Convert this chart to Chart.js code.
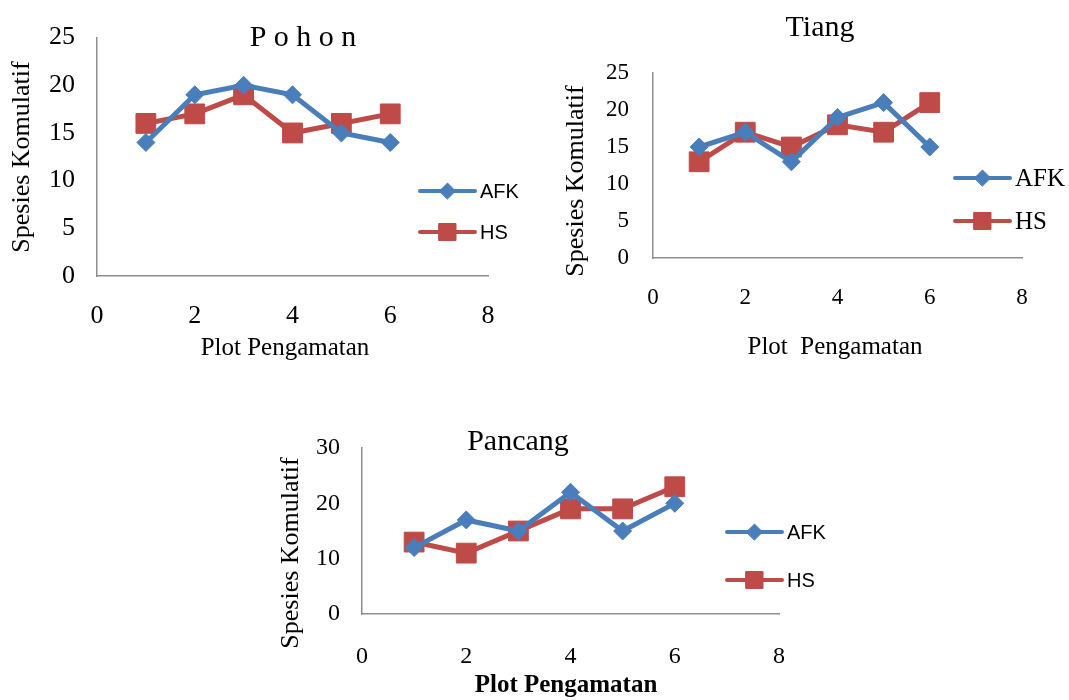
<!DOCTYPE html>
<html>
<head>
<meta charset="utf-8">
<script src="https://cdn.jsdelivr.net/npm/chart.js@4.4.0/dist/chart.umd.min.js"></script>
<style>
  body { margin: 0; background: #fff; }
  #wrap { position: relative; width: 1069px; height: 700px; overflow: hidden; }
  canvas { position: absolute; }
</style>
</head>
<body>
<div id="wrap">
  <canvas id="pohon" width="540" height="370" style="left:0;top:0"></canvas>
  <canvas id="tiang" width="529" height="370" style="left:540px;top:0"></canvas>
  <canvas id="pancang" width="620" height="320" style="left:240px;top:380px"></canvas>
</div>
<script>
// data
var plotNo = [1, 2, 3, 4, 5, 6];
var seriesNames = ["AFK", "HS"];

var pohonAFK = [14, 19, 20, 19, 15, 14];
var pohonHS = [16, 17, 19, 15, 16, 17];

var tiangAFK = [15, 17, 13, 19, 21, 15];
var tiangHS = [13, 17, 15, 18, 17, 21];

var pancangAFK = [12, 17, 15, 22, 15, 20];
var pancangHS = [13, 11, 15, 19, 19, 23];

var blue = "#4A7EBB";
var red = "#BE4B48";
var serif = "'Liberation Serif', 'Times New Roman', serif";
var sans = "'Liberation Sans', Arial, sans-serif";

function toPoints(ys) {
  return plotNo.map(function (x, i) { return { x: x, y: ys[i] }; });
}

// titles, axis titles and legend drawn on top of the chart
function extras(spec) {
  return {
    id: "extras",
    afterDraw: function (chart) {
      var ctx = chart.ctx;
      ctx.save();
      ctx.fillStyle = "#000";
      ctx.textBaseline = "middle";
      spec.texts.forEach(function (t) {
        ctx.save();
        ctx.font = t.font;
        ctx.textAlign = "center";
        ctx.translate(t.x, t.y);
        if (t.rotate) ctx.rotate(-Math.PI / 2);
        ctx.fillText(t.text, 0, 0);
        ctx.restore();
      });
      var lg = spec.legend;
      chart.data.datasets.forEach(function (ds, i) {
        var y = lg.y[i];
        ctx.strokeStyle = ds.borderColor;
        ctx.lineWidth = 4;
        ctx.lineCap = "round";
        ctx.beginPath();
        ctx.moveTo(lg.x1, y);
        ctx.lineTo(lg.x2, y);
        ctx.stroke();
        ctx.fillStyle = ds.pointBackgroundColor;
        ctx.lineWidth = 1;
        Chart.helpers.drawPoint(ctx, { pointStyle: ds.pointStyle, radius: lg.radius[i], borderWidth: 1, rotation: 0 }, (lg.x1 + lg.x2) / 2, y);
        ctx.fillStyle = "#000";
        ctx.font = lg.font;
        ctx.textAlign = "left";
        ctx.fillText(ds.label, lg.x2 + 5, y + 1);
      });
      ctx.restore();
    }
  };
}

function makeChart(id, afk, hs, spec) {
  var canvas = document.getElementById(id);
  var a = spec.area;
  var cfg = {
    type: "scatter",
    data: {
      datasets: [
        {
          label: seriesNames[0], data: toPoints(afk), showLine: true,
          borderColor: blue, borderWidth: 5, pointStyle: "rectRot", pointRadius: 9,
          pointBackgroundColor: blue, pointBorderColor: blue, pointBorderWidth: 1
        },
        {
          label: seriesNames[1], data: toPoints(hs), showLine: true,
          borderColor: red, borderWidth: 5, pointStyle: "rect", pointRadius: 14,
          pointBackgroundColor: red, pointBorderColor: red, pointBorderWidth: 1
        }
      ]
    },
    options: {
      responsive: false,
      animation: false,
      clip: false,
      layout: { padding: { left: 0, top: a.top, right: canvas.width - a.right, bottom: 0 } },
      plugins: { legend: { display: false }, tooltip: { enabled: false } },
      scales: {
        x: {
          type: "linear", min: 0, max: 8,
          grid: { display: false, drawTicks: false },
          border: { color: "#8e8e8e", width: 1.5 },
          ticks: { stepSize: 2, padding: spec.xPad, color: "#000", font: { family: serif, size: spec.tickSize } },
          afterFit: function (s) { s.height = canvas.height - a.bottom; }
        },
        y: {
          min: 0, max: spec.yMax,
          grid: { display: false, drawTicks: false },
          border: { color: "#8e8e8e", width: 1.5 },
          ticks: { stepSize: spec.yStep, padding: spec.yPad, color: "#000", font: { family: serif, size: spec.tickSize } },
          afterFit: function (s) { s.width = a.left; }
        }
      }
    },
    plugins: [extras(spec)]
  };
  return new Chart(canvas.getContext("2d"), cfg);
}

makeChart("pohon", pohonAFK, pohonHS, {
  area: { left: 97, top: 37, right: 488, bottom: 276 },
  yMax: 25, yStep: 5, tickSize: 26, xPad: 25, yPad: 22,
  texts: [
    { text: "P o h o n", x: 303, y: 38, font: "30px " + serif },
    { text: "Spesies Komulatif", x: 22, y: 157, font: "26px " + serif, rotate: true },
    { text: "Plot Pengamatan", x: 285, y: 348, font: "25px " + serif }
  ],
  legend: { x1: 420, x2: 475, y: [191, 232], radius: [8, 12], font: "20px " + sans }
});

makeChart("tiang", tiangAFK, tiangHS, {
  area: { left: 113, top: 73, right: 482, bottom: 258 },
  yMax: 25, yStep: 5, tickSize: 23, xPad: 26, yPad: 24,
  texts: [
    { text: "Tiang", x: 280, y: 28, font: "30px " + serif },
    { text: "Spesies Komulatif", x: 36, y: 181, font: "26px " + serif, rotate: true },
    { text: "Plot  Pengamatan", x: 295, y: 347, font: "25px " + serif }
  ],
  legend: { x1: 415, x2: 470, y: [178, 221], radius: [8, 12], font: "25px " + serif }
});

makeChart("pancang", pancangAFK, pancangHS, {
  area: { left: 122, top: 68, right: 539, bottom: 234 },
  yMax: 30, yStep: 10, tickSize: 24, xPad: 28, yPad: 22,
  texts: [
    { text: "Pancang", x: 278, y: 62, font: "30px " + serif },
    { text: "Spesies Komulatif", x: 51, y: 173, font: "26px " + serif, rotate: true },
    { text: "Plot Pengamatan", x: 326, y: 306, font: "bold 25px " + serif }
  ],
  legend: { x1: 487, x2: 542, y: [152, 200], radius: [8, 12], font: "20px " + sans }
});
</script>
</body>
</html>
